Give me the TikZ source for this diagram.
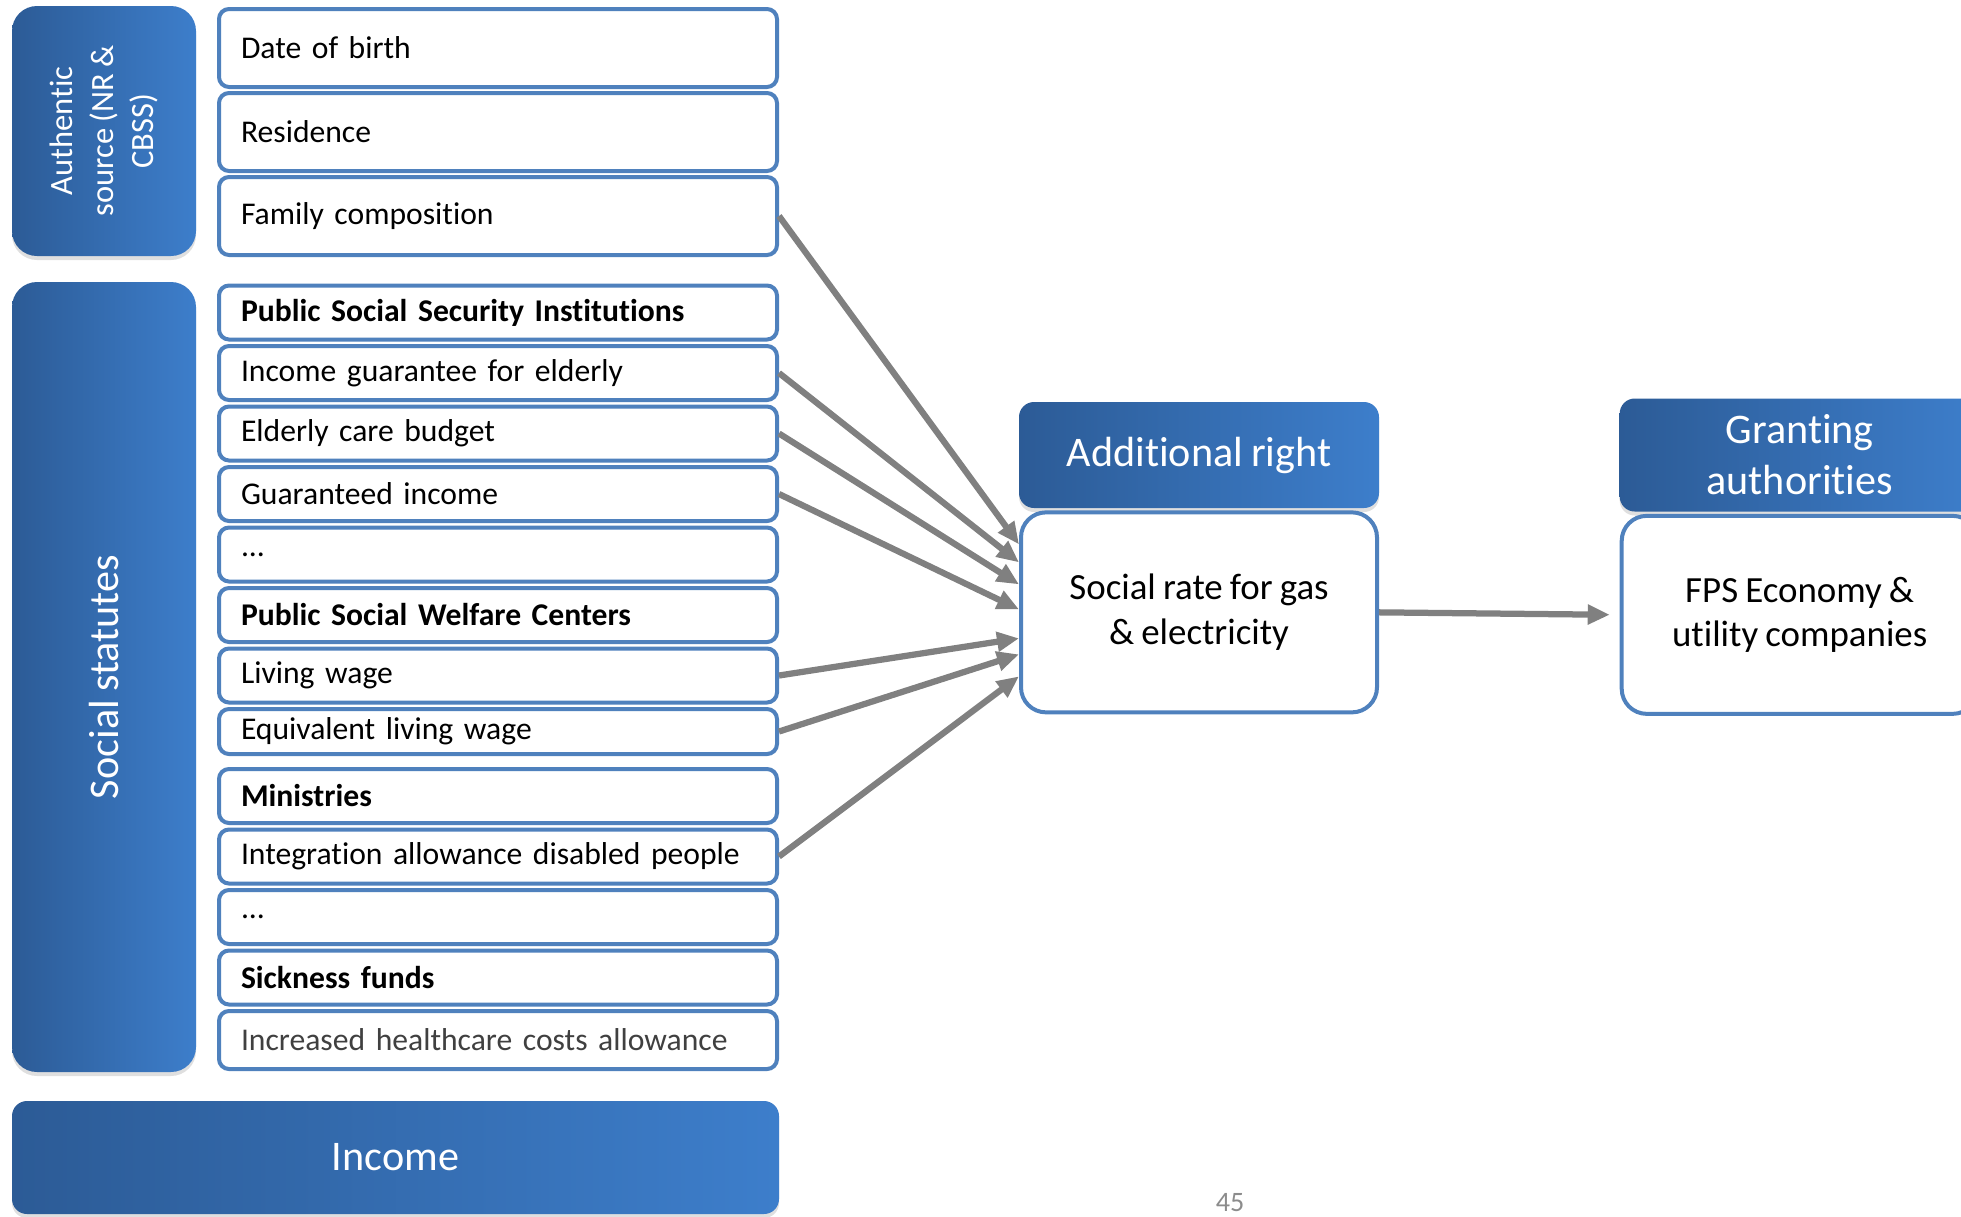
\documentclass[tikz,border=0pt]{standalone}
\usepackage{fontspec}
\setmainfont{Carlito}[Ligatures=NoCommon, WordSpace=0.85]
\usetikzlibrary{
  arrows.meta,
  positioning,
  shadows
}
\definecolor{boxLine}{RGB}{79,129,189}
\definecolor{barLight}{RGB}{61,126,203}
\definecolor{barDark}{RGB}{44,91,150}
\definecolor{feedGray}{RGB}{128,128,128}
\tikzset{
  itembox/.style={
    draw=boxLine,
    fill=white,
    line width=0.08cm,
    rounded corners=0.2cm,
    text width=10.28cm,
    minimum height=1.08cm,
    inner xsep=0.44cm,
    inner ysep=0pt,
    align=left,
    font=\fontsize{18}{21}\selectfont
  },
  itemhead/.style={
    itembox,
    font=\fontsize{18}{21}\selectfont\bfseries
  },
  bar/.style={
    draw=none,
    left color=barDark,
    right color=barLight,
    rounded corners=0.3cm,
    text=white,
    align=center,
    font=\fontsize{24}{29}\selectfont,
    minimum width=7.2cm,
    inner sep=0pt,
    drop shadow={shadow xshift=0cm, shadow yshift=-0.08cm, opacity=0.25}
  },
  sidebar/.style={
    bar,
    rotate=90,
    rounded corners=0.5cm
  },
  rightbox/.style={
    draw=boxLine,
    fill=white,
    line width=0.08cm,
    rounded corners=0.5cm,
    minimum width=7.12cm,
    align=center,
    font=\fontsize{21}{25.5}\selectfont
  },
  feed/.style={
    -{Triangle[length=0.44cm, width=0.38cm]},
    draw=feedGray,
    line width=0.125cm
  }
}
\begin{document}
\begin{tikzpicture}[node distance=0.05cm]
  \clip (0,0) rectangle (39.22,-24.32);

  % blue bars on the left
  \node[sidebar, minimum width=5cm, minimum height=3.68cm,
    font=\fontsize{18.5}{23}\selectfont] (auth) at (2.08,-2.62)
    {Authentic\\source (NR \&\\CBSS)};
  \node[sidebar, minimum width=15.8cm, minimum height=3.68cm] (stat) at (2.08,-13.54)
    {Social statutes};
  \node[bar, minimum width=15.34cm, minimum height=2.26cm] (income) at (7.91,-23.15)
    {Income};

  % authentic source data
  \node[itembox, minimum height=1.56cm] (dob) at (9.96,-0.96) {Date of birth};
  \node[itembox, minimum height=1.56cm, below=0.04cm of dob] (res) {Residence};
  \node[itembox, minimum height=1.56cm, below=0.04cm of res] (fam) {Family composition};

  % social statutes
  \node[itemhead] (pssi) at (9.96,-6.25) {Public Social Security Institutions};
  \node[itembox, below=of pssi] (ige) {Income guarantee for elderly};
  \node[itembox, below=of ige] (ecb) {Elderly care budget};
  \node[itembox, below=of ecb] (gin) {Guaranteed income};
  \node[itembox, below=of gin] (dotsa) {...};
  \node[itemhead, below=of dotsa] (pswc) {Public Social Welfare Centers};
  \node[itembox, below=of pswc] (lw) {Living wage};
  \node[itembox, below=of lw, minimum height=0.9cm] (elw) {Equivalent living wage};
  \node[itemhead, below=0.22cm of elw] (mins) {Ministries};
  \node[itembox, below=of mins] (iadp) {Integration allowance disabled people};
  \node[itembox, below=of iadp] (dotsb) {...};
  \node[itemhead, below=of dotsb] (sick) {Sickness funds};
  \node[itembox, below=of sick, minimum height=1.16cm, text=black!75] (ihca)
    {Increased healthcare costs allowance};

  % additional right and granting authorities
  \node[bar, minimum height=2.12cm] (addr) at (23.98,-9.10) {Additional right};
  \node[rightbox, minimum height=4cm, below=0.04cm of addr] (rate)
    {Social rate for gas\\\& electricity};
  \node[bar, minimum height=2.26cm, right=4.8cm of addr] (grant)
    {Granting\\authorities};
  \node[rightbox, minimum height=3.96cm, below=0.04cm of grant] (fps)
    {FPS Economy \&\\utility companies};

  \node[font=\fontsize{16}{18}\selectfont, text=black!45] (pagenum) at (24.6,-24.06) {45};

  % arrows
  \draw[feed] (fam.east) -- ([yshift=1.36cm]rate.west);
  \draw[feed] (ige.east) -- ([yshift=1.0cm]rate.west);
  \draw[feed] (ecb.east) -- ([yshift=0.56cm]rate.west);
  \draw[feed] (gin.east) -- ([yshift=0.06cm]rate.west);
  \draw[feed] (lw.east) -- ([yshift=-0.52cm]rate.west);
  \draw[feed] (elw.east) -- ([yshift=-0.84cm]rate.west);
  \draw[feed] (iadp.east) -- ([yshift=-1.28cm]rate.west);
  \draw[feed, shorten >=0.2cm] (rate.east) -- (fps.west);
\end{tikzpicture}
\end{document}
